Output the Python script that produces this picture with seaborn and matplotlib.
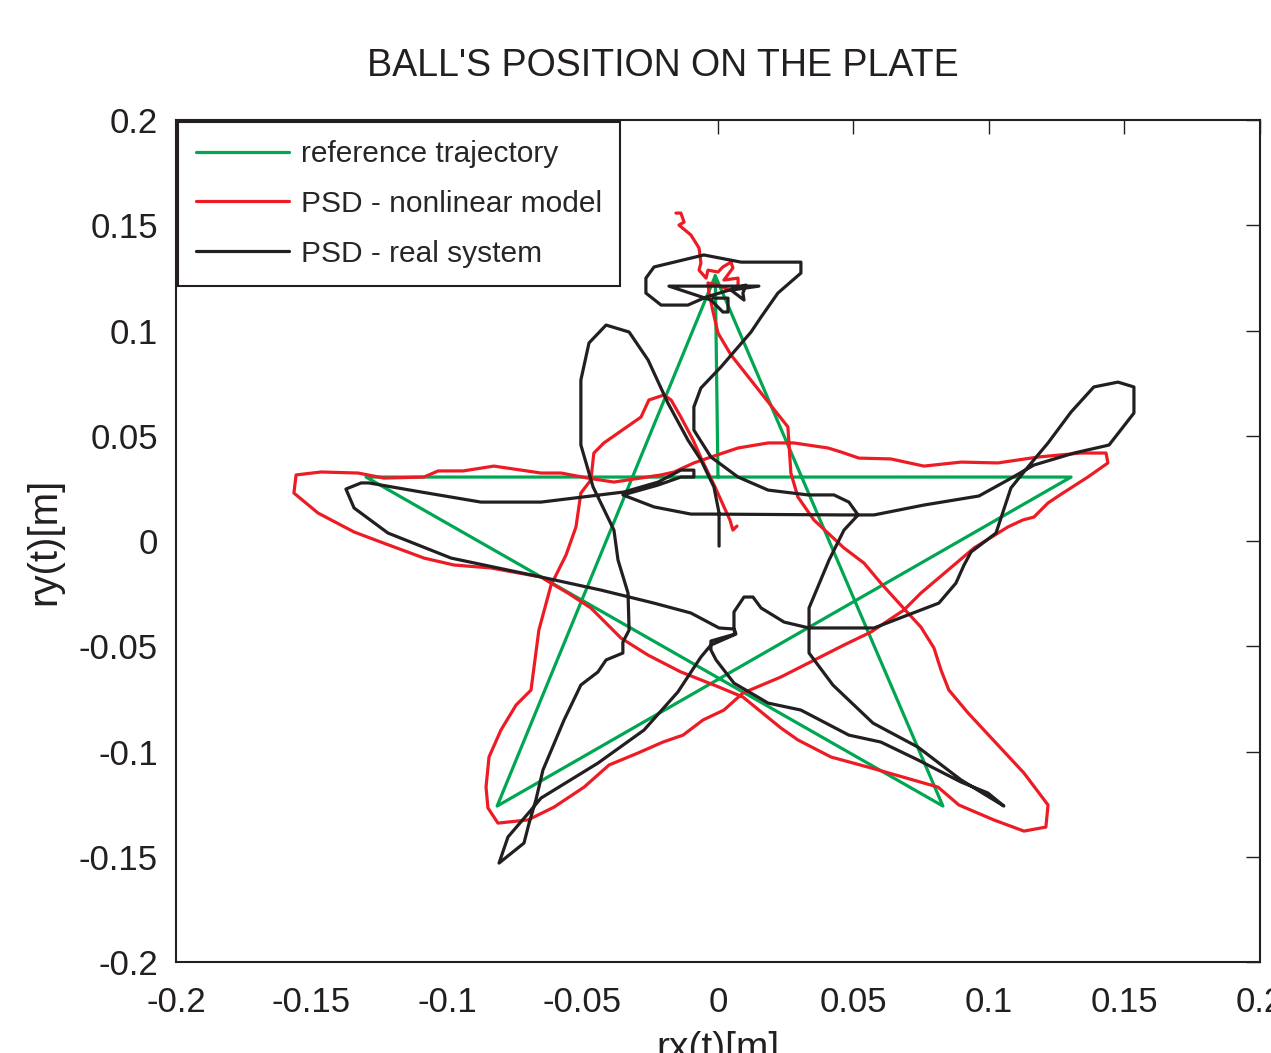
import seaborn as sns
import matplotlib.pyplot as plt
import pandas as pd

# reference trajectory (star)
ref_x = [0.0, -0.001, -0.0815, 0.1303, -0.1299, 0.0830, -0.001]
ref_y = [0.0304, 0.126, -0.1259, 0.0304, 0.0304, -0.1259, 0.126]

# PSD - nonlinear model
model_x = [0.0070, 0.0055, 0.0044, -0.0011, -0.0059, -0.0092, -0.0137, -0.0173, -0.0199, -0.0255,
           -0.0284, -0.0421, -0.0458, -0.0461, -0.0469, -0.0506, -0.0524, -0.0561, -0.0616, -0.0661,
           -0.0672, -0.0690, -0.0745, -0.0801, -0.0845, -0.0856, -0.0849, -0.0812, -0.0701, -0.0605,
           -0.0494, -0.0402, -0.0295, -0.0203, -0.0129, -0.0055, 0.0022, 0.0092, 0.0232, 0.0465,
           0.0565, 0.0686, 0.0749, 0.0849, 0.0945, 0.1070, 0.1125, 0.1166, 0.1218, 0.1273,
           0.1365, 0.1439, 0.1432, 0.1339, 0.1181, 0.1033, 0.0897, 0.0760, 0.0638, 0.0520,
           0.0454, 0.0406, 0.0280, 0.0185, 0.0074, -0.0026, -0.0089, -0.0162, -0.0210, -0.0384,
           -0.0480, -0.0579, -0.0653, -0.0827, -0.0941, -0.1033, -0.1085, -0.1232, -0.1328, -0.1465,
           -0.1557, -0.1565, -0.1476, -0.1343, -0.1244, -0.1085, -0.0974, -0.0838, -0.0653, -0.0616,
           -0.0554, -0.0469, -0.0358, -0.0258, -0.0137, -0.0015, 0.0092, 0.0232, 0.0295, 0.0417,
           0.0565, 0.0812, 0.0889, 0.1018, 0.1129, 0.1210, 0.1218, 0.1129, 0.0923, 0.0852,
           0.0823, 0.0797, 0.0749, 0.0701, 0.0601, 0.0539, 0.0465, 0.0354, 0.0295, 0.0269,
           0.0258, 0.0159, 0.0048, 0.0000, -0.0018, -0.0033, -0.0037, 0.0000, 0.0041, 0.0074,
           0.0074, 0.0022, 0.0055, 0.0048, 0.0018, 0.0000, -0.0037, -0.0044, -0.0070, -0.0063,
           -0.0070, -0.0100, -0.0144, -0.0125, -0.0137, -0.0155]
model_y = [0.0071, 0.0052, 0.0100, 0.0257, 0.0385, 0.0480, 0.0589, 0.0670, 0.0694, 0.0670,
           0.0589, 0.0466, 0.0418, 0.0385, 0.0290, 0.0228, 0.0067, -0.0067, -0.0209, -0.0423,
           -0.0532, -0.0708, -0.0779, -0.0898, -0.1026, -0.1169, -0.1268, -0.1340, -0.1325, -0.1264,
           -0.1169, -0.1064, -0.1007, -0.0955, -0.0922, -0.0850, -0.0803, -0.0722, -0.0646, -0.0494,
           -0.0432, -0.0328, -0.0247, -0.0138, -0.0033, 0.0067, 0.0100, 0.0114, 0.0181, 0.0228,
           0.0304, 0.0371, 0.0418, 0.0418, 0.0399, 0.0371, 0.0375, 0.0356, 0.0390, 0.0394,
           0.0423, 0.0442, 0.0466, 0.0466, 0.0442, 0.0399, 0.0371, 0.0328, 0.0314, 0.0280,
           0.0299, 0.0323, 0.0323, 0.0356, 0.0333, 0.0333, 0.0304, 0.0299, 0.0323, 0.0328,
           0.0314, 0.0228, 0.0133, 0.0043, -0.0005, -0.0081, -0.0114, -0.0128, -0.0171, -0.0200,
           -0.0247, -0.0318, -0.0461, -0.0542, -0.0622, -0.0684, -0.0741, -0.0888, -0.0945, -0.1026,
           -0.1078, -0.1169, -0.1254, -0.1325, -0.1378, -0.1359, -0.1254, -0.1102, -0.0817, -0.0708,
           -0.0613, -0.0508, -0.0409, -0.0342, -0.0200, -0.0105, -0.0033, 0.0100, 0.0209, 0.0323,
           0.0542, 0.0703, 0.0884, 0.0988, 0.1088, 0.1178, 0.1226, 0.1216, 0.1192, 0.1202,
           0.1249, 0.1240, 0.1297, 0.1325, 0.1302, 0.1278, 0.1287, 0.1249, 0.1287, 0.1321,
           0.1392, 0.1454, 0.1501, 0.1515, 0.1558, 0.1558]

# PSD - real system
real_x = [0.0004, 0.0004, -0.0015, -0.0063, -0.0111, -0.0185, -0.0258, -0.0328, -0.0413, -0.0476,
          -0.0506, -0.0506, -0.0461, -0.0384, -0.0369, -0.0332, -0.0328, -0.0351, -0.0351, -0.0413,
          -0.0443, -0.0506, -0.0568, -0.0646, -0.0672, -0.0697, -0.0716, -0.0808, -0.0775, -0.0690,
          -0.0653, -0.0443, -0.0273, -0.0148, -0.0063, -0.0026, 0.0066, 0.0059, 0.0059, 0.0096,
          0.0129, 0.0159, 0.0244, 0.0336, 0.0576, 0.0815, 0.0878, 0.0908, 0.0934, 0.1026,
          0.1081, 0.1144, 0.1218, 0.1303, 0.1387, 0.1476, 0.1535, 0.1535, 0.1443, 0.1314,
          0.1166, 0.1070, 0.0963, 0.0760, 0.0576, 0.0454, -0.0026, -0.0100, -0.0236, -0.0351,
          -0.0221, -0.0137, -0.0089, -0.0089, -0.0137, -0.0221, -0.0347, -0.0469, -0.0653, -0.0875,
          -0.1096, -0.1288, -0.1317, -0.1373, -0.1343, -0.1218, -0.0985, -0.0653, -0.0432, -0.0236,
          -0.0100, 0.0004, 0.0059, 0.0063, -0.0026, -0.0026, -0.0007, 0.0059, 0.0185, 0.0306,
          0.0483, 0.0601, 0.0738, 0.0897, 0.0996, 0.1055, 0.0897, 0.0738, 0.0572, 0.0424,
          0.0336, 0.0336, 0.0336, 0.0410, 0.0465, 0.0517, 0.0483, 0.0428, 0.0332, 0.0185,
          0.0074, -0.0026, -0.0089, -0.0089, -0.0063, 0.0011, 0.0122, 0.0159, 0.0221, 0.0306,
          0.0306, 0.0085, -0.0052, -0.0236, -0.0266, -0.0266, -0.0210, -0.0111, -0.0044, 0.0066,
          0.0103, 0.0092, 0.0096, 0.0048, 0.0151, -0.0181, -0.0026, 0.0018, 0.0037, 0.0037,
          -0.0018]
real_y = [-0.0024, 0.0133, 0.0257, 0.0385, 0.0480, 0.0656, 0.0860, 0.0993, 0.1026, 0.0941,
          0.0765, 0.0456, 0.0257, 0.0052, -0.0090, -0.0247, -0.0423, -0.0480, -0.0532, -0.0565,
          -0.0622, -0.0684, -0.0850, -0.1088, -0.1230, -0.1340, -0.1435, -0.1530, -0.1406, -0.1278,
          -0.1221, -0.1055, -0.0898, -0.0717, -0.0551, -0.0494, -0.0442, -0.0413, -0.0337, -0.0266,
          -0.0266, -0.0318, -0.0385, -0.0413, -0.0413, -0.0295, -0.0200, -0.0114, -0.0052, 0.0038,
          0.0252, 0.0352, 0.0466, 0.0613, 0.0732, 0.0755, 0.0732, 0.0608, 0.0456, 0.0418,
          0.0361, 0.0290, 0.0214, 0.0171, 0.0124, 0.0124, 0.0128, 0.0128, 0.0162, 0.0219,
          0.0266, 0.0304, 0.0304, 0.0337, 0.0337, 0.0280, 0.0233, 0.0214, 0.0185, 0.0185,
          0.0233, 0.0276, 0.0276, 0.0247, 0.0157, 0.0038, -0.0081, -0.0171, -0.0233, -0.0295,
          -0.0342, -0.0413, -0.0418, -0.0442, -0.0475, -0.0518, -0.0565, -0.0675, -0.0770, -0.0803,
          -0.0922, -0.0955, -0.1040, -0.1145, -0.1197, -0.1259, -0.1135, -0.0979, -0.0865, -0.0684,
          -0.0532, -0.0413, -0.0318, -0.0090, 0.0052, 0.0124, 0.0185, 0.0219, 0.0219, 0.0242,
          0.0304, 0.0399, 0.0527, 0.0637, 0.0727, 0.0827, 0.0993, 0.1064, 0.1178, 0.1273,
          0.1325, 0.1325, 0.1359, 0.1302, 0.1249, 0.1178, 0.1121, 0.1121, 0.1159, 0.1202,
          0.1216, 0.1178, 0.1145, 0.1192, 0.1211, 0.1211, 0.1145, 0.1088, 0.1088, 0.1154,
          0.1154]

series_names = ["reference trajectory", "PSD - nonlinear model", "PSD - real system"]
series_colors = ["#00a651", "#ed1c24", "#231f20"]

sns.set_theme(style="white")
plt.rcParams['font.family'] = ['Liberation Sans', 'DejaVu Sans']

fig = plt.figure(figsize=(12.71, 10.53), dpi=100)
ax = fig.add_axes([0.1385, 0.0864, 0.8528, 0.7996])

data = [(ref_x, ref_y), (model_x, model_y), (real_x, real_y)]
for (xs, ys), name, col in zip(data, series_names, series_colors):
    df = pd.DataFrame({'rx': xs, 'ry': ys})
    sns.lineplot(data=df, x='rx', y='ry', sort=False, estimator=None, color=col,
                 linewidth=2.3, label=name, ax=ax)

ax.set_xlim(-0.2, 0.2)
ax.set_ylim(-0.2, 0.2)
ticks = [-0.2, -0.15, -0.1, -0.05, 0, 0.05, 0.1, 0.15, 0.2]
tick_labels = ['-0.2', '-0.15', '-0.1', '-0.05', '0', '0.05', '0.1', '0.15', '0.2']
ax.set_xticks(ticks)
ax.set_xticklabels(tick_labels)
ax.set_yticks(ticks)
ax.set_yticklabels(tick_labels)
ax.tick_params(direction='in', length=10, width=1, top=True, right=True,
               labelsize=25, colors='#231f20', pad=13)
ax.tick_params(axis='x', pad=17)
for s in ax.spines.values():
    s.set_color('#231f20')
    s.set_linewidth(1.5)

ax.set_xlabel('rx(t)[m]', fontsize=28, color='#231f20', labelpad=9)
ax.set_ylabel('ry(t)[m]', fontsize=29, color='#231f20', labelpad=11)
ax.set_title("BALL'S POSITION ON THE PLATE", fontsize=27, color='#231f20', pad=32, x=0.449)

leg = ax.legend(loc='upper left', fontsize=21.5, frameon=True, fancybox=False, framealpha=1,
                edgecolor='#231f20', handlelength=3.1, handletextpad=0.4, borderpad=0.6,
                labelspacing=0.73, borderaxespad=0.07)
leg.get_frame().set_linewidth(1.5)

fig.savefig('out.png', dpi=100)
